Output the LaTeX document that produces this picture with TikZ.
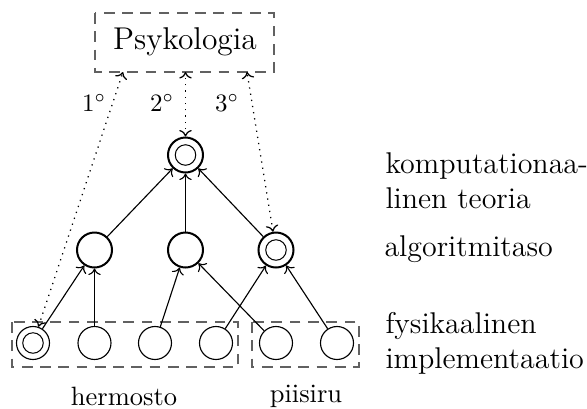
\documentclass[tikz,border=0pt]{standalone}
\usetikzlibrary{arrows.meta}
\begin{document}
\begin{tikzpicture}[x=0.4pt,y=-0.4pt,
  grbox/.style={draw=black!62, dash pattern=on 4.3pt off 3pt, line width=0.55pt},
  bignode/.style={circle, draw, line width=0.8pt, minimum size=14pt, inner sep=0pt},
  smallnode/.style={circle, draw, line width=0.45pt, minimum size=13.2pt, inner sep=0pt},
  dbl/.style={path picture={\draw[line width=0.4pt] (path picture bounding box.center) circle (4.1pt);}},
  arr/.style={-{To[length=2.6pt,width=5pt]}, line width=0.45pt},
  dotarr/.style={{To[length=2.6pt,width=5pt]}-{To[length=2.6pt,width=5pt]}, dotted, line width=0.5pt},
  lbl/.style={inner sep=0pt},
  side/.style={anchor=west, align=left, inner sep=0pt, font=\large}]
\useasboundingbox (0,0) rectangle (587,408);
% Psykologia box
\draw[grbox] (95,13) rectangle (274,72);
\node[font=\fontsize{12.6}{15}\selectfont, inner sep=0pt] (psy) at (185,42) {Psykologia};
\coordinate (p1) at (123,72);
\coordinate (p2) at (185.5,72);
\coordinate (p3) at (247,72);
% nodes
\node[bignode, dbl] (top) at (185.5,155) {};
\node[bignode] (m1) at (94.5,250) {};
\node[bignode] (m2) at (185.5,250) {};
\node[bignode, dbl] (m3) at (276,250) {};
\node[smallnode, dbl] (b1) at (33,343) {};
\node[smallnode] (b2) at (94.5,343) {};
\node[smallnode] (b3) at (155,343) {};
\node[smallnode] (b4) at (216,343) {};
\node[smallnode] (b5) at (276,343) {};
\node[smallnode] (b6) at (337,343) {};
% dashed boxes
\draw[grbox] (12,322) rectangle (238,367);
\draw[grbox] (252,322) rectangle (359,367);
\node[font=\fontsize{10.6}{13}\selectfont] (hm) at (124,396) {hermosto};
\node[font=\fontsize{10.6}{13}\selectfont] (ps) at (306,396) {piisiru};
% edges
\draw[arr] (m1) -- (top);
\draw[arr] (m2) -- (top);
\draw[arr] (m3) -- (top);
\draw[arr] (b1) -- (m1);
\draw[arr] (b2) -- (m1);
\draw[arr] (b3) -- (m2);
\draw[arr] (b5) -- (m2);
\draw[arr] (b4) -- (m3);
\draw[arr] (b6) -- (m3);
% dotted
\draw[dotarr] (b1) -- (p1);
\draw[dotarr] (top) -- (p2);
\draw[dotarr] (m3) -- (p3);
\node[lbl] (l1) at (94,103) {1$^\circ$};
\node[lbl] (l2) at (162,103) {2$^\circ$};
\node[lbl] (l3) at (227,103) {3$^\circ$};
% side labels
\node[side] (t1) at (385,181) {komputationaa-\\linen teoria};
\node[side] (t2) at (384,249) {algoritmitaso};
\node[side] (t3) at (385,343) {fysikaalinen\\implementaatio};
\end{tikzpicture}
\end{document}
